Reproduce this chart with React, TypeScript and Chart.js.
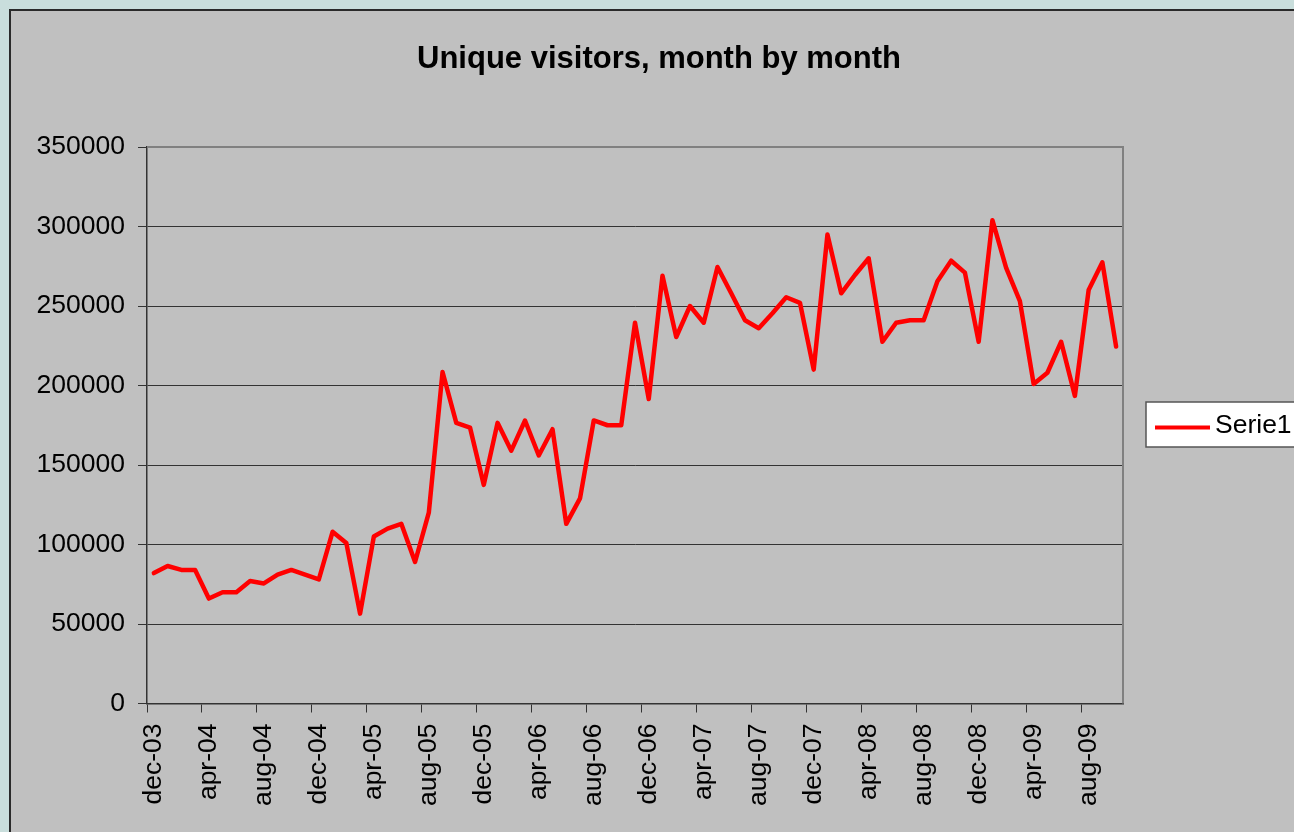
import React, { useEffect, useRef } from "react";
import { Chart, registerables } from "chart.js";

Chart.register(...registerables);

const TITLE = "Unique visitors, month by month";
const SERIES_NAME = "Serie1";

const categories: string[] = [
  "dec-03",
  "jan-04", "feb-04", "mrt-04", "apr-04", "mei-04", "jun-04", "jul-04", "aug-04", "sep-04", "okt-04", "nov-04", "dec-04",
  "jan-05", "feb-05", "mrt-05", "apr-05", "mei-05", "jun-05", "jul-05", "aug-05", "sep-05", "okt-05", "nov-05", "dec-05",
  "jan-06", "feb-06", "mrt-06", "apr-06", "mei-06", "jun-06", "jul-06", "aug-06", "sep-06", "okt-06", "nov-06", "dec-06",
  "jan-07", "feb-07", "mrt-07", "apr-07", "mei-07", "jun-07", "jul-07", "aug-07", "sep-07", "okt-07", "nov-07", "dec-07",
  "jan-08", "feb-08", "mrt-08", "apr-08", "mei-08", "jun-08", "jul-08", "aug-08", "sep-08", "okt-08", "nov-08", "dec-08",
  "jan-09", "feb-09", "mrt-09", "apr-09", "mei-09", "jun-09", "jul-09", "aug-09", "sep-09", "okt-09",
];

const visitors: number[] = [
  82000,
  86500, 84000, 84000, 66000, 70000, 70000, 77000, 75500, 81000, 84000, 81000, 78000,
  108000, 101000, 56500, 105000, 110000, 113000, 89000, 120000, 208500, 176500, 173500, 137500,
  176500, 159000, 178000, 156000, 172500, 113000, 129000, 178000, 175000, 175000, 239500, 191500,
  269000, 230500, 250000, 239500, 274500, 258000, 241000, 236000, 245500, 255500, 252000, 210000,
  295000, 258000, 269500, 280000, 227500, 239500, 241000, 241000, 265500, 278500, 271000, 227500,
  304000, 274000, 253000, 201000, 208000, 227500, 193500, 260000, 277500, 224500,
];

const Y_MIN = 0;
const Y_MAX = 350000;
const Y_STEP = 50000;
const LABEL_EVERY = 4;

const FONT_FAMILY = "'Liberation Sans', Arial, Helvetica, sans-serif";

const decorPlugin = {
  id: "decor",
  beforeDatasetsDraw(chart: any) {
    const { ctx, chartArea } = chart;
    const { left, right, top, bottom } = chartArea;
    ctx.save();
    ctx.strokeStyle = "#808080";
    ctx.lineWidth = 2;
    ctx.beginPath();
    ctx.moveTo(left, top);
    ctx.lineTo(right, top);
    ctx.lineTo(right, bottom);
    ctx.stroke();
    ctx.restore();
  },
  afterDraw(chart: any) {
    const { ctx } = chart;
    ctx.save();
    // title
    ctx.fillStyle = "#000";
    ctx.font = `bold 31px ${FONT_FAMILY}`;
    ctx.textAlign = "center";
    ctx.textBaseline = "alphabetic";
    ctx.fillText(TITLE, 659, 67.5);
    // legend box
    ctx.fillStyle = "#ffffff";
    ctx.fillRect(1146, 402, 160, 45);
    ctx.strokeStyle = "#555";
    ctx.lineWidth = 1.5;
    ctx.strokeRect(1146, 402, 160, 45);
    ctx.strokeStyle = "#ff0000";
    ctx.lineWidth = 4;
    ctx.beginPath();
    ctx.moveTo(1155, 427.5);
    ctx.lineTo(1210, 427.5);
    ctx.stroke();
    ctx.fillStyle = "#000";
    ctx.font = `26.5px ${FONT_FAMILY}`;
    ctx.textAlign = "left";
    ctx.fillText(SERIES_NAME, 1215, 433);
    ctx.restore();
  },
};

export default function App() {
  const canvasRef = useRef<HTMLCanvasElement | null>(null);

  useEffect(() => {
    const canvas = canvasRef.current;
    if (!canvas) return;
    Chart.defaults.font.family = FONT_FAMILY;
    const chart = new Chart(canvas, {
      type: "line",
      data: {
        labels: categories,
        datasets: [
          {
            label: SERIES_NAME,
            data: visitors,
            borderColor: "#ff0000",
            backgroundColor: "#ff0000",
            borderWidth: 4.5,
            borderJoinStyle: "round",
            borderCapStyle: "round",
            pointRadius: 0,
            pointHoverRadius: 0,
            tension: 0,
            fill: false,
          },
        ],
      },
      options: {
        animation: false,
        responsive: false,
        maintainAspectRatio: false,
        devicePixelRatio: 1,
        layout: { padding: { top: 147, left: 0, right: 171, bottom: 0 } },
        plugins: {
          legend: { display: false },
          title: { display: false },
          tooltip: { enabled: false },
        },
        scales: {
          x: {
            type: "category",
            offset: true,
            afterFit: (scale: any) => {
              scale.height = 128.5;
            },
            grid: {
              offset: true,
              drawOnChartArea: false,
              drawTicks: true,
              tickLength: 9,
              lineWidth: 1,
              color: (ctx: any) => (ctx.index % LABEL_EVERY === 0 ? "#333333" : "rgba(0,0,0,0)"),
            },
            border: { display: true, color: "#333333", width: 1.5 },
            ticks: {
              autoSkip: false,
              maxRotation: 90,
              minRotation: 90,
              padding: 11,
              color: "#000",
              font: { size: 26.5, family: FONT_FAMILY },
              callback: (_v: any, i: number) => (i % LABEL_EVERY === 0 ? categories[i] : ""),
            },
          },
          y: {
            min: Y_MIN,
            max: Y_MAX,
            afterFit: (scale: any) => {
              scale.width = 147;
            },
            grid: {
              drawOnChartArea: true,
              drawTicks: true,
              tickLength: 9,
              lineWidth: 1,
              color: "#333333",
            },
            border: { display: true, color: "#333333", width: 1.5 },
            ticks: {
              stepSize: Y_STEP,
              padding: 13,
              color: "#000",
              font: { size: 26.5, family: FONT_FAMILY },
              callback: (v: any) => String(v),
            },
          },
        },
      },
      plugins: [decorPlugin],
    });
    return () => chart.destroy();
  }, []);

  return (
    <div
      style={{
        position: "fixed",
        left: 0,
        top: 0,
        width: 1294,
        height: 832,
        overflow: "hidden",
        background: "#c9dedc",
      }}
    >
      <div
        style={{
          position: "absolute",
          left: 9,
          top: 9,
          width: 1320,
          height: 860,
          boxSizing: "border-box",
          border: "2px solid #2a2a2a",
          background: "#c0c0c0",
        }}
      />
      <canvas
        ref={canvasRef}
        width={1294}
        height={832}
        style={{ position: "absolute", left: 0, top: 0, width: 1294, height: 832, display: "block" }}
      />
    </div>
  );
}
